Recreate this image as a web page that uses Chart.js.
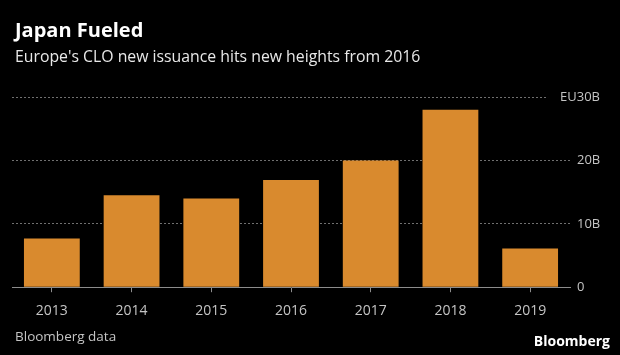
<!DOCTYPE html>
<html>
<head>
<meta charset="utf-8">
<script src="https://cdn.jsdelivr.net/npm/chart.js@4/dist/chart.umd.min.js"></script>
<style>
  html, body { margin: 0; padding: 0; background: #000; }
  #wrap { position: relative; width: 620px; height: 355px; }
</style>
</head>
<body>
<div id="wrap"><canvas id="c" width="620" height="355"></canvas></div>
<script>
const titleText = 'Japan Fueled';
const subtitleText = "Europe's CLO new issuance hits new heights from 2016";
const sourceText = 'Bloomberg data';
const brandText = 'Bloomberg';
const years = ['2013', '2014', '2015', '2016', '2017', '2018', '2019'];
const issuance = [7.7, 14.5, 14.0, 16.9, 20.0, 28.0, 6.1];
const yTickValues = [0, 10, 20, 30];
const yTickLabels = ['0', '10B', '20B', 'EU30B'];

const FONT = '"Open Sans", "Noto Sans", sans-serif';

const textPlugin = {
  id: 'bbgText',
  afterDraw(chart) {
    const ctx = chart.ctx;
    const y = chart.scales.y;
    ctx.save();
    ctx.textBaseline = 'alphabetic';
    ctx.textAlign = 'left';
    ctx.fillStyle = '#ffffff';
    ctx.font = 'bold 20px ' + FONT;
    ctx.fillText(titleText, 15, 37);
    ctx.fillStyle = '#e8e8e8';
    ctx.font = '15.8px ' + FONT;
    ctx.fillText(subtitleText, 15, 62);
    ctx.fillStyle = '#c4c4c4';
    ctx.font = '13.5px ' + FONT;
    ctx.fillText(sourceText, 15, 341);
    ctx.fillStyle = '#ffffff';
    ctx.font = 'bold 14px ' + FONT;
    ctx.textAlign = 'right';
    ctx.fillText(brandText, 610, 346);
    ctx.font = '13px ' + FONT;
    ctx.textBaseline = 'middle';
    const x0 = 577;
    yTickValues.forEach((v, i) => {
      const py = y.getPixelForValue(v);
      const label = yTickLabels[i];
      ctx.textAlign = 'left';
      if (i === yTickValues.length - 1) {
        const w = ctx.measureText(label).width;
        const lx = 600 - w;
        ctx.fillStyle = '#000';
        ctx.fillRect(lx - 12, py - 3, w + 12, 6);
        ctx.fillStyle = '#c4c4c4';
        ctx.fillText(label, lx, py);
      } else {
        ctx.fillStyle = '#c4c4c4';
        ctx.fillText(label, x0, py);
      }
    });
    ctx.restore();
  }
};

new Chart(document.getElementById('c'), {
  type: 'bar',
  data: {
    labels: years,
    datasets: [{
      data: issuance,
      backgroundColor: '#d98a2e',
      borderWidth: 0,
      categoryPercentage: 1.0,
      barPercentage: 0.70
    }]
  },
  options: {
    responsive: false,
    animation: false,
    devicePixelRatio: 1,
    layout: { padding: { top: 97, left: 12, right: 50, bottom: 26 } },
    plugins: { legend: { display: false }, tooltip: { enabled: false } },
    scales: {
      x: {
        grid: { display: true, drawOnChartArea: false, drawTicks: true, tickLength: 5, offset: false, color: '#8c8c8c' },
        border: { display: true, color: '#8c8c8c', width: 1 },
        ticks: { color: '#c4c4c4', font: { family: FONT, size: 14 }, padding: 10, maxRotation: 0 }
      },
      y: {
        position: 'right',
        min: 0, max: 30,
        afterBuildTicks(scale) { scale.ticks = yTickValues.map(v => ({ value: v })); },
        ticks: { display: false },
        grid: {
          drawTicks: false,
          color: ctx => ctx.tick && ctx.tick.value === 0 ? 'rgba(0,0,0,0)' : '#707070',
          lineWidth: 1
        },
        border: { display: false, dash: [2, 2] }
      }
    }
  },
  plugins: [textPlugin]
});
</script>
</body>
</html>
